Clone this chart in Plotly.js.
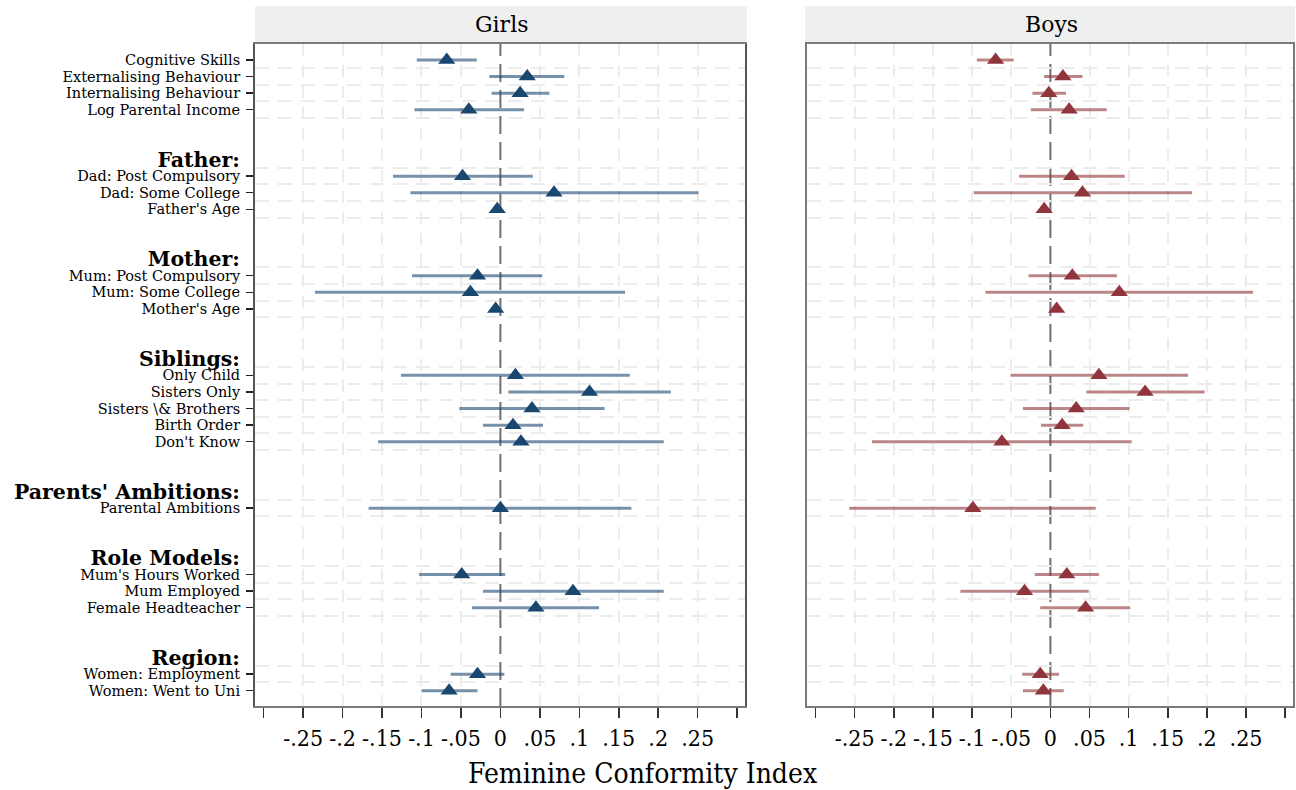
<!DOCTYPE html>
<html>
<head>
<meta charset="utf-8">
<script src="https://cdn.plot.ly/plotly-3.0.1.min.js"></script>
<style>html,body{margin:0;padding:0;background:#fff;}#chart{width:1296px;height:790px;}</style>
</head>
<body>
<div id="chart"></div>
<script>
// ---------- data ----------
const groupHeaders = ['', 'Father:', 'Mother:', 'Siblings:', "Parents' Ambitions:", 'Role Models:', 'Region:'];
const groupSizes = [4, 3, 3, 5, 1, 3, 2];
const variables = [
  'Cognitive Skills', 'Externalising Behaviour', 'Internalising Behaviour', 'Log Parental Income',
  'Dad: Post Compulsory', 'Dad: Some College', "Father's Age",
  'Mum: Post Compulsory', 'Mum: Some College', "Mother's Age",
  'Only Child', 'Sisters Only', 'Sisters \\& Brothers', 'Birth Order', "Don't Know",
  'Parental Ambitions',
  "Mum's Hours Worked", 'Mum Employed', 'Female Headteacher',
  'Women: Employment', 'Women: Went to Uni'
];
const panels = ['Girls', 'Boys'];
const girlsEst = [-0.068, 0.034, 0.025, -0.040, -0.048, 0.068, -0.004, -0.029, -0.038, -0.006, 0.019, 0.113, 0.040, 0.016, 0.026, 0.000, -0.049, 0.092, 0.045, -0.029, -0.065];
const girlsLo  = [-0.106, -0.014, -0.011, -0.109, -0.136, -0.114, -0.008, -0.112, -0.235, -0.010, -0.126, 0.010, -0.052, -0.022, -0.155, -0.167, -0.103, -0.022, -0.036, -0.063, -0.100];
const girlsHi  = [-0.030, 0.081, 0.062, 0.030, 0.041, 0.251, 0.000, 0.053, 0.158, -0.002, 0.164, 0.216, 0.132, 0.054, 0.207, 0.166, 0.006, 0.207, 0.125, 0.005, -0.029];
const boysEst  = [-0.070, 0.016, -0.002, 0.024, 0.027, 0.041, -0.008, 0.028, 0.088, 0.008, 0.062, 0.121, 0.033, 0.015, -0.062, -0.099, 0.021, -0.033, 0.045, -0.013, -0.009];
const boysLo   = [-0.094, -0.008, -0.023, -0.025, -0.040, -0.098, -0.012, -0.028, -0.083, 0.004, -0.051, 0.046, -0.035, -0.012, -0.228, -0.257, -0.020, -0.115, -0.013, -0.036, -0.035];
const boysHi   = [-0.047, 0.041, 0.020, 0.072, 0.095, 0.181, -0.004, 0.085, 0.259, 0.012, 0.176, 0.197, 0.101, 0.042, 0.104, 0.058, 0.062, 0.049, 0.102, 0.011, 0.017];
const xTickVals = [-0.25, -0.2, -0.15, -0.1, -0.05, 0, 0.05, 0.1, 0.15, 0.2, 0.25];
const xTickText = ['-.25', '-.2', '-.15', '-.1', '-.05', '0', '.05', '.1', '.15', '.2', '.25'];
const xEndTicks = [-0.3, 0.3];
const xTitle = 'Feminine Conformity Index';

// ---------- row layout ----------
const itemRows = [], headerRows = [], headerText = [];
let row = 0;
groupHeaders.forEach((h, g) => {
  if (g > 0) row += 2;
  if (h) { headerRows.push(row); headerText.push('<b>' + h + '</b>'); row++; }
  for (let k = 0; k < groupSizes[g]; k++) itemRows.push(row++);
});
const lastRow = itemRows[itemRows.length - 1];
const gridRows = headerRows.concat(itemRows).filter(r => r < lastRow).map(r => r + 0.5);
const yRange = [lastRow + 0.92, -0.96];

const SERIF = 'DejaVu Serif, serif';
const COND = 'DejaVu Serif Condensed, Liberation Serif, serif';
const navy = '#1a476f', maroon = '#90353b';

function ciTrace(est, lo, hi, color, ci, xa, ya) {
  return {
    type: 'scatter', mode: 'markers', x: est, y: itemRows, xaxis: xa, yaxis: ya,
    marker: {symbol: 'triangle-up', size: 15, color: color},
    error_x: {type: 'data', symmetric: false,
      array: hi.map((v, i) => v - est[i]), arrayminus: lo.map((v, i) => est[i] - v),
      color: ci, thickness: 3, width: 0},
    showlegend: false, hoverinfo: 'x+y'
  };
}

const data = [
  ciTrace(girlsEst, girlsLo, girlsHi, navy, 'rgba(26,71,111,0.6)', 'x', 'y'),
  ciTrace(boysEst, boysLo, boysHi, maroon, 'rgba(144,53,59,0.6)', 'x2', 'y2'),
  {type: 'scatter', mode: 'markers', x: [null], y: [null], xaxis: 'x', yaxis: 'y3', showlegend: false, hoverinfo: 'skip'}
];

const W = 1296, H = 790;
const yDom = [1 - 706 / H, 1 - 44 / H];
function xAxis(dom, anchor) {
  return {
    domain: dom, anchor: anchor, range: [-0.311, 0.310], fixedrange: true,
    tickmode: 'array', tickvals: xTickVals, ticktext: xTickText,
    ticks: 'outside', ticklen: 10, tickwidth: 1.5, tickcolor: '#333',
    tickfont: {family: COND, size: 23, color: '#000'},
    showgrid: true, gridcolor: '#ececec', gridwidth: 2, griddash: '12px,9px',
    zeroline: true, zerolinecolor: 'rgba(0,0,0,0)', zerolinewidth: 1,
    showline: true, mirror: true, linecolor: '#7a7a7a', linewidth: 2,
    minor: {tickmode: 'array', tickvals: xEndTicks, ticks: 'outside', ticklen: 10, tickwidth: 1.5, tickcolor: '#333', showgrid: false}
  };
}
function yAxis(anchor, labels) {
  return {
    domain: yDom, anchor: anchor, range: yRange, fixedrange: true,
    tickmode: 'array', tickvals: itemRows, ticktext: variables,
    showticklabels: labels, ticks: labels ? 'outside' : '', ticklen: 7, tickwidth: 1.5, tickcolor: '#222',
    ticklabelstandoff: 3,
    tickfont: {family: SERIF, size: 14.5, color: '#000'},
    showgrid: false, zeroline: false,
    showline: true, mirror: true, linecolor: labels ? '#555' : '#7a7a7a', linewidth: 2,
    minor: {tickmode: 'array', tickvals: gridRows, ticks: '', showgrid: true, gridcolor: '#ececec', gridwidth: 2, griddash: '14px,9px'}
  };
}

const layout = {
  width: W, height: H, margin: {l: 0, r: 0, t: 0, b: 0},
  paper_bgcolor: '#fff', plot_bgcolor: '#fff',
  xaxis: xAxis([255 / W, 745 / W], 'y'),
  yaxis: yAxis('x', true),
  xaxis2: xAxis([807 / W, 1293 / W], 'y2'),
  yaxis2: yAxis('x2', false),
  yaxis3: {
    overlaying: 'y', anchor: 'x', side: 'left', range: yRange, fixedrange: true,
    tickmode: 'array', tickvals: headerRows, ticktext: headerText,
    ticks: 'outside', ticklen: 7, tickcolor: 'rgba(0,0,0,0)', ticklabelstandoff: 3,
    tickfont: {family: SERIF, size: 20.5, color: '#000'},
    showgrid: false, zeroline: false, showline: false
  },
  shapes: [
    {type: 'rect', xref: 'paper', yref: 'paper', x0: 255 / W, x1: 747 / W, y0: 1 - 44 / H, y1: 1 - 6 / H, fillcolor: '#efefef', line: {width: 0}, layer: 'below'},
    {type: 'rect', xref: 'paper', yref: 'paper', x0: 805 / W, x1: 1295 / W, y0: 1 - 44 / H, y1: 1 - 6 / H, fillcolor: '#efefef', line: {width: 0}, layer: 'below'},
    {type: 'line', xref: 'x', yref: 'y domain', x0: 0, x1: 0, y0: 0, y1: 1, line: {color: '#707070', width: 2, dash: '18px,8px'}, layer: 'below'},
    {type: 'line', xref: 'x2', yref: 'y2 domain', x0: 0, x1: 0, y0: 0, y1: 1, line: {color: '#707070', width: 2, dash: '18px,8px'}, layer: 'below'}
  ],
  annotations: [
    {text: panels[0], xref: 'paper', yref: 'paper', x: 501 / W, y: 1 - 25 / H, showarrow: false, xanchor: 'center', yanchor: 'middle', font: {family: SERIF, size: 22, color: '#000'}},
    {text: panels[1], xref: 'paper', yref: 'paper', x: 1051 / W, y: 1 - 25 / H, showarrow: false, xanchor: 'center', yanchor: 'middle', font: {family: SERIF, size: 22, color: '#000'}},
    {text: xTitle, xref: 'paper', yref: 'paper', x: 642 / W, y: 1 - 773 / H, showarrow: false, xanchor: 'center', yanchor: 'middle', font: {family: COND, size: 28, color: '#000'}}
  ]
};

Plotly.newPlot('chart', data, layout, {displayModeBar: false, staticPlot: true});
</script>
</body>
</html>
